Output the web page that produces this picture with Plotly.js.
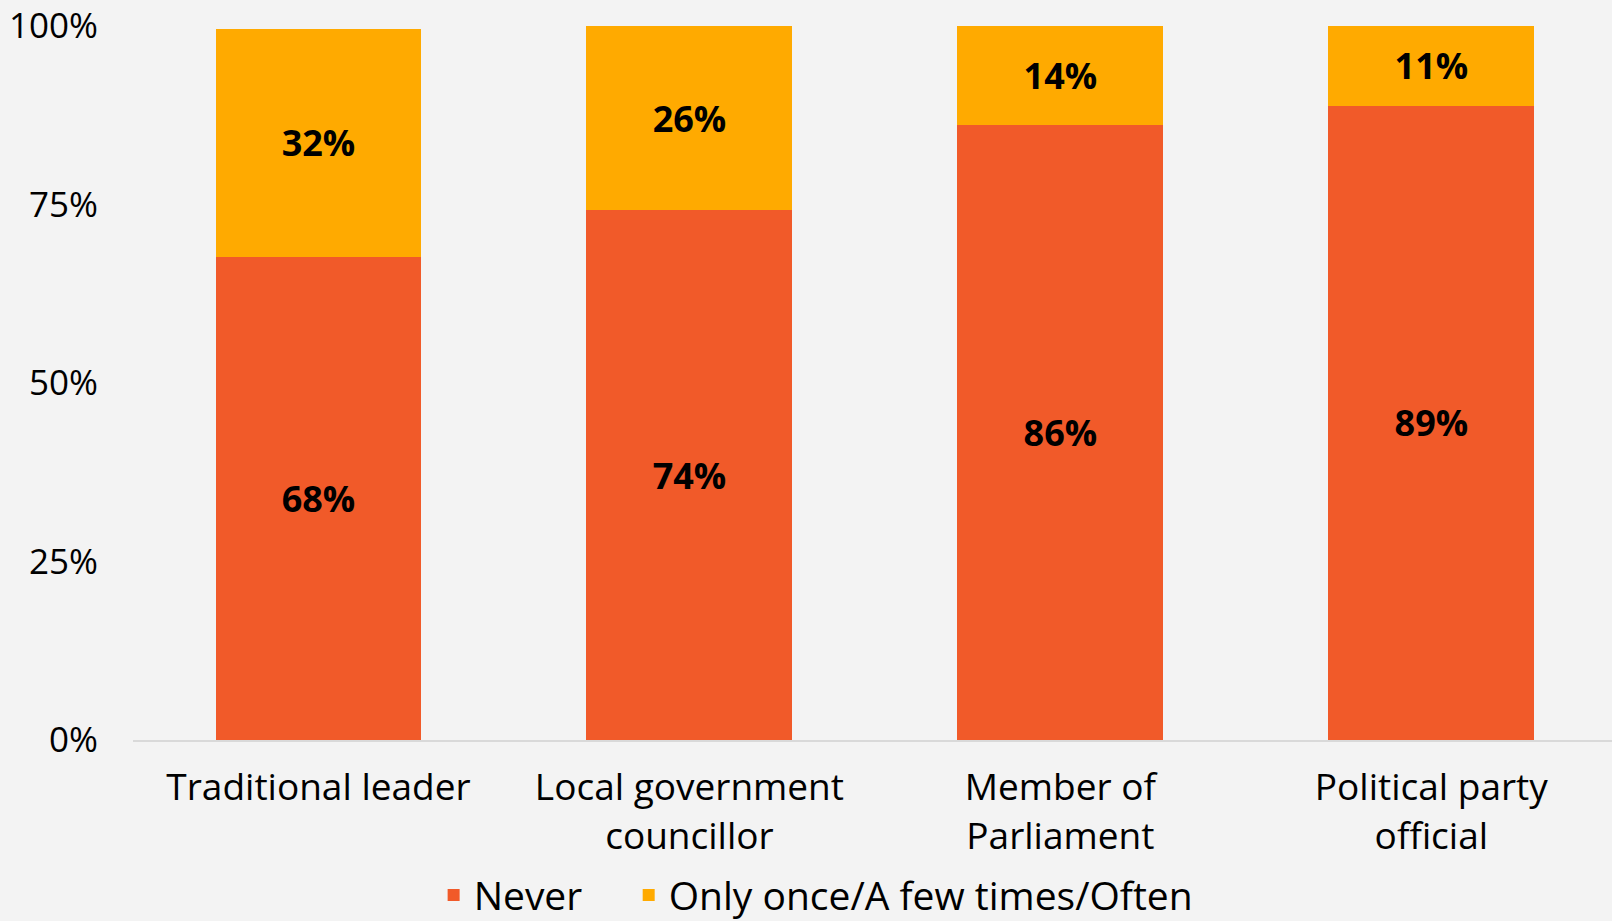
<!DOCTYPE html>
<html>
<head>
<meta charset="utf-8">
<script src="https://cdn.plot.ly/plotly-3.0.1.min.js"></script>
<style>
html,body{margin:0;padding:0;background:#f3f3f3;}
#chart{width:1612px;height:921px;}
</style>
</head>
<body>
<div id="chart"></div>
<script>
const categories = ["Traditional leader", "Local government<br>councillor", "Member of<br>Parliament", "Political party<br>official"];
const neverValues = [67.7, 74.2, 86.2, 88.8];
const otherValues = [31.9, 25.8, 13.8, 11.2];
const seriesNames = ["Never", "Only once/A few times/Often"];
const yTickValues = [0, 25, 50, 75, 100];
const yTickLabels = ["0%", "25%", "50%", "75%", "100%"];

const FONT = "'Open Sans', Lato, sans-serif";
const labelFont = {family: FONT, size: 36, color: "#000000", weight: 700};
const legendFont = {family: FONT, size: 39, color: "#000000"};

const traces = [
  {
    type: "bar", name: seriesNames[0], x: categories, y: neverValues,
    marker: {color: "#F15A29"}, legend: "legend",
    texttemplate: "%{y:.0f}%", textposition: "inside", insidetextanchor: "middle",
    textfont: labelFont, hoverinfo: "skip"
  },
  {
    type: "bar", name: seriesNames[1], x: categories, y: otherValues,
    marker: {color: "#FFAA00"}, legend: "legend2",
    texttemplate: "%{y:.0f}%", textposition: "inside", insidetextanchor: "middle",
    textfont: labelFont, hoverinfo: "skip"
  }
];

const legendBase = {
  orientation: "h", xanchor: "left",
  yref: "container", y: 0.028, yanchor: "middle",
  xref: "container",
  font: legendFont, itemwidth: 30, bgcolor: "rgba(0,0,0,0)"
};

const layout = {
  width: 1612, height: 921,
  barmode: "stack",
  bargap: 0.445,
  paper_bgcolor: "#f3f3f3",
  plot_bgcolor: "#f3f3f3",
  margin: {l: 133, r: 0, t: 26, b: 181, autoexpand: false},
  font: {family: FONT, size: 36, color: "#000000"},
  showlegend: true,
  legend: Object.assign({}, legendBase, {x: 0.269}),
  legend2: Object.assign({}, legendBase, {x: 0.390}),
  xaxis: {
    range: [-0.5, 3.487],
    automargin: false,
    showline: true, linecolor: "#d9d9d9", linewidth: 2,
    showgrid: false, zeroline: false, ticks: "",
    ticklabelstandoff: 14,
    tickfont: {family: FONT, size: 37, color: "#000000"},
    fixedrange: true
  },
  yaxis: {
    range: [0, 100],
    automargin: false,
    tickvals: yTickValues, ticktext: yTickLabels,
    showgrid: false, zeroline: false, showline: false, ticks: "",
    ticklabelstandoff: 34,
    tickfont: {family: FONT, size: 35, color: "#000000"},
    fixedrange: true
  }
};

Plotly.newPlot("chart", traces, layout, {displayModeBar: false, staticPlot: true});
</script>
</body>
</html>
